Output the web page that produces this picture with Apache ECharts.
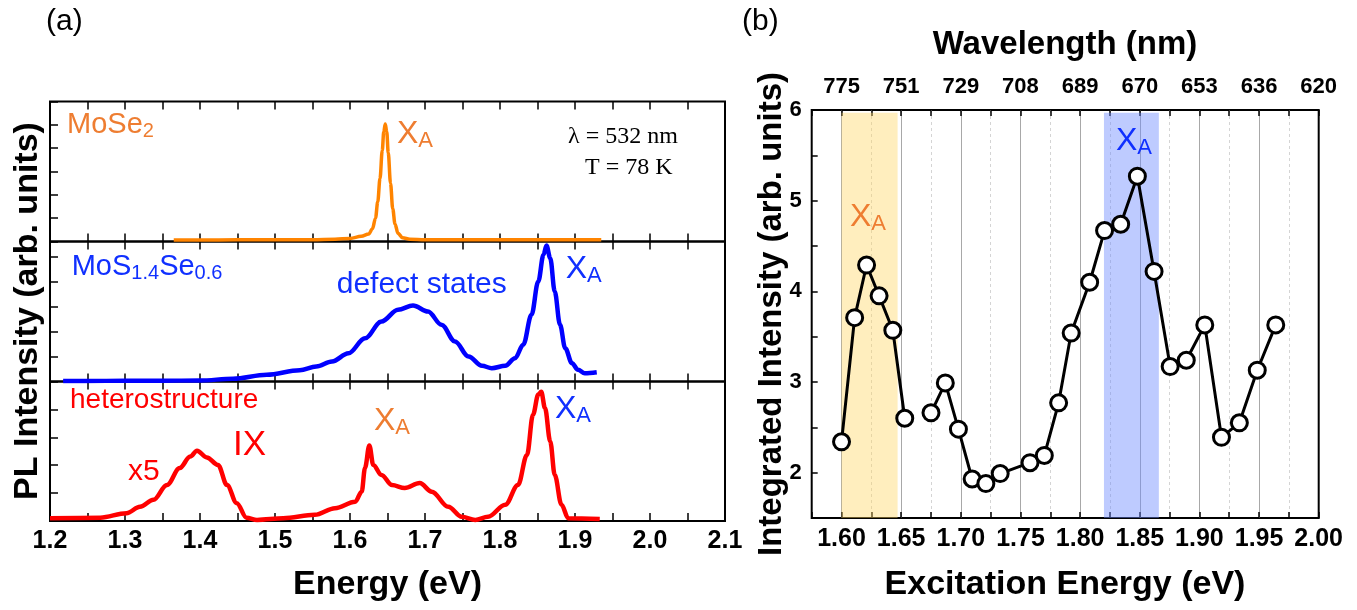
<!DOCTYPE html>
<html><head><meta charset="utf-8">
<script src="https://cdn.jsdelivr.net/npm/echarts@6/dist/echarts.min.js"></script>
<style>html,body{margin:0;padding:0;background:#fff}#c{width:1357px;height:610px}</style>
</head><body><div id="c"></div>
<script>
// ---------- DATA ----------
// Panel (a): PL spectra (arb. units, per-panel scale)
const mose2Energy = [1.365,1.40,1.45,1.50,1.55,1.58,1.60,1.615,1.625,1.630,1.634,1.637,1.640,1.643,1.645,1.647,1.649,1.651,1.654,1.657,1.660,1.664,1.670,1.680,1.700,1.750,1.800,1.850,1.900,1.935];
const mose2PL     = [0.06,0.06,0.07,0.07,0.08,0.10,0.13,0.22,0.32,0.55,1.0,1.7,2.7,3.9,4.7,5.04,4.7,3.8,2.5,1.4,0.75,0.35,0.16,0.10,0.08,0.07,0.07,0.08,0.07,0.07];

const mossEnergy = [1.2175,1.25,1.30,1.35,1.40,1.444,1.489,1.533,1.555,1.576,1.598,1.620,1.642,1.664,1.684,1.704,1.722,1.740,1.758,1.776,1.789,1.807,1.820,1.831,1.842,1.851,1.858,1.862,1.867,1.873,1.880,1.887,1.896,1.904,1.913,1.929];
const mossPL     = [0.02,0.02,0.03,0.03,0.04,0.11,0.27,0.45,0.60,0.80,1.13,1.73,2.40,2.87,3.04,2.80,2.27,1.60,1.00,0.63,0.53,0.63,0.93,1.47,2.67,4.00,5.07,5.44,4.93,3.60,2.27,1.33,0.73,0.47,0.33,0.37];

const heteroEnergy = [1.200,1.267,1.302,1.320,1.338,1.356,1.373,1.387,1.396,1.409,1.424,1.436,1.449,1.462,1.476,1.511,1.553,1.580,1.607,1.6156,1.620,1.6258,1.631,1.642,1.656,1.673,1.693,1.709,1.731,1.749,1.767,1.784,1.807,1.824,1.836,1.844,1.851,1.855,1.860,1.867,1.873,1.882,1.891,1.933];
const heteroPL     = [0.10,0.12,0.28,0.51,0.76,1.29,1.90,2.31,2.52,2.28,2.01,1.29,0.64,0.12,0.04,0.10,0.22,0.46,0.69,1.05,1.90,2.71,2.01,1.65,1.29,1.18,1.36,1.05,0.51,0.15,0.04,0.15,0.58,1.29,2.37,3.81,4.53,4.63,4.05,2.85,1.65,0.58,0.10,0.07];

// Panel (b): integrated intensity vs excitation energy
const excitationEnergy   = [1.600,1.611,1.621,1.6315,1.643,1.653,1.675,1.687,1.698,1.7095,1.721,1.733,1.758,1.770,1.782,1.7925,1.808,1.8205,1.834,1.848,1.862,1.8755,1.889,1.9045,1.9185,1.9335,1.9485,1.964];
const integratedIntensity = [2.34,3.71,4.29,3.95,3.57,2.60,2.66,2.99,2.48,1.93,1.88,1.99,2.11,2.19,2.77,3.54,4.10,4.67,4.74,5.27,4.22,3.17,3.24,3.63,2.39,2.55,3.13,3.63];
const lineBreakAfter = 5; // no connecting segment between 6th and 7th point

const wavelengthLabels = ['775','751','729','708','689','670','653','636','620'];
const bandMoSe2XA = [1.600, 1.647];
const bandMoSSeXA = [1.820, 1.866];

// ---------- CHART ----------
const SANS = '"Liberation Sans", Arial, sans-serif';
const SERIF = '"Liberation Serif", "DejaVu Serif", serif';
const ORANGE_T = '#EE7D31', BLUE_T = '#1030FF', RED = '#FF0000';
const chart = echarts.init(document.getElementById('c'));
const zip = (a, b) => a.map((x, i) => [x, b[i]]);

const fmtA = v => { const t = Math.round(v * 100); return t % 10 === 0 ? (t / 100).toFixed(1) : ''; };
const fmtB = v => v < 1.58 ? '' : v.toFixed(2);
const fmtW = v => { const i = Math.round((v - 1.60) / 0.05); return (v > 1.58 && i >= 0 && i < wavelengthLabels.length) ? wavelengthLabels[i] : ''; };

const gridBox = {show: true, borderColor: '#000', borderWidth: 2, backgroundColor: 'transparent', outerBoundsMode: 'none', containLabel: false};
const grids = [
  Object.assign({left: 50, top: 101.5, width: 675, height: 140}, gridBox),
  Object.assign({left: 50, top: 241.5, width: 675, height: 140}, gridBox),
  Object.assign({left: 50, top: 381.5, width: 675, height: 139.5}, gridBox),
  Object.assign({left: 811.7, top: 110, width: 507, height: 408}, gridBox),
  {left: 781.9, top: 110, width: 536.8, height: 408, show: false, outerBoundsMode: 'none', containLabel: false}
];

const tickA = {show: true, inside: true, length: 8, lineStyle: {color: '#000', width: 1.5}};
function axA(grid, pos, labels) {
  return {gridIndex: grid, type: 'value', position: pos, min: 1.2, max: 2.1, interval: 0.05,
    axisLine: {show: false}, axisTick: tickA, splitLine: {show: false},
    axisLabel: {show: labels, formatter: fmtA, fontFamily: SANS, fontWeight: 'bold', fontSize: 25, color: '#000', margin: 8}};
}
const xAxes = [
  axA(0, 'bottom', false), axA(0, 'top', false),
  axA(1, 'bottom', false), axA(1, 'top', false),
  axA(2, 'bottom', true), axA(2, 'top', false),
  {gridIndex: 3, type: 'value', position: 'bottom', min: 1.575, max: 2.0, interval: 0.025,
    axisLine: {show: false}, axisTick: {show: true, inside: true, length: 6, lineStyle: {color: '#000', width: 1.5}},
    axisLabel: {show: false},
    splitLine: {show: true, showMinLine: false, showMaxLine: false, lineStyle: {color: '#d4d4d4', width: 1, type: [3, 3]}}},
  {gridIndex: 3, type: 'value', position: 'top', min: 1.575, max: 2.0, interval: 0.025,
    axisLine: {show: false}, axisTick: {show: true, inside: true, length: 6, lineStyle: {color: '#000', width: 1.5}},
    axisLabel: {show: false}, splitLine: {show: false}},
  {gridIndex: 4, type: 'value', position: 'bottom', min: 1.55, max: 2.0, interval: 0.05,
    axisLine: {show: false}, axisTick: {show: false},
    axisLabel: {formatter: fmtB, fontFamily: SANS, fontWeight: 'bold', fontSize: 25, color: '#000', margin: 9},
    splitLine: {show: true, showMinLine: false, showMaxLine: false, lineStyle: {color: '#a8a8a8', width: 1}}},
  {gridIndex: 4, type: 'value', position: 'top', min: 1.55, max: 2.0, interval: 0.05,
    axisLine: {show: false}, axisTick: {show: false},
    axisLabel: {formatter: fmtW, fontFamily: SANS, fontWeight: 'bold', fontSize: 22, color: '#000', margin: 12},
    splitLine: {show: false}}
];
function ayA(grid, max) {
  return {gridIndex: grid, type: 'value', min: 0, max: max, interval: 1, position: 'left',
    axisLine: {show: false}, axisTick: tickA, axisLabel: {show: false}, splitLine: {show: false}};
}
const yAxes = [
  ayA(0, 6), ayA(1, 5.6), ayA(2, 5),
  {gridIndex: 3, type: 'value', min: 1.5, max: 6, interval: 0.5, position: 'left',
    axisLine: {show: false}, axisTick: {show: true, inside: true, length: 6, lineStyle: {color: '#000', width: 1.5}},
    axisLabel: {formatter: v => Number.isInteger(v) ? String(v) : '', fontFamily: SANS, fontWeight: 'bold', fontSize: 22, color: '#000', margin: 10},
    splitLine: {show: false}},
  {gridIndex: 4, type: 'value', min: 1.5, max: 6, show: false}
];

const bData = [];
excitationEnergy.forEach((e, i) => { bData.push([e, integratedIntensity[i]]); if (i === lineBreakAfter) bData.push('-'); });

function lineSeries(x, y, data, color, w) {
  return {type: 'line', xAxisIndex: x, yAxisIndex: y, data: data, showSymbol: false, symbol: 'none',
    smooth: 0.35, smoothMonotone: 'x', lineStyle: {color: color, width: w}, silent: true, z: 3};
}

function sub(main, s, size, subSize, color, x, y, subLH) {
  return {type: 'text', x: x, y: y, z: 50, silent: true,
    style: {text: '{m|' + main + '}{s|' + s + '}', align: 'left', textAlign: 'left', verticalAlign: 'middle', textVerticalAlign: 'middle', fill: color,
      rich: {m: {fontFamily: SANS, fontSize: size, lineHeight: size + 4, fill: color},
             s: {fontFamily: SANS, fontSize: subSize, lineHeight: subLH, verticalAlign: 'bottom', fill: color}}}};
}
function txt(x, y, text, size, color, opts) {
  opts = opts || {};
  return {type: 'text', x: x, y: y, z: 50, silent: true, rotation: opts.rot || 0,
    style: {text: text, fontFamily: opts.family || SANS, fontSize: size, fontWeight: opts.weight || 'normal', fill: color,
      align: opts.align || 'left', textAlign: opts.align || 'left', verticalAlign: 'middle', textVerticalAlign: 'middle'}};
}

const graphics = [
  txt(46, 22, '(a)', 30, '#000'),
  txt(742, 22, '(b)', 30, '#000'),
  txt(28, 311, 'PL Intensity (arb. units)', 34, '#000', {weight: 'bold', align: 'center', rot: Math.PI / 2}),
  txt(387.5, 585, 'Energy (eV)', 34, '#000', {weight: 'bold', align: 'center'}),
  txt(772, 314, 'Integrated Intensity (arb. units)', 33, '#000', {weight: 'bold', align: 'center', rot: Math.PI / 2}),
  txt(1065, 585, 'Excitation Energy (eV)', 34, '#000', {weight: 'bold', align: 'center'}),
  txt(1065, 45, 'Wavelength (nm)', 33, '#000', {weight: 'bold', align: 'center'}),
  sub('MoSe', '2', 29, 20, ORANGE_T, 67, 125, 14),
  sub('X', 'A', 32, 22, ORANGE_T, 397, 134, 12),
  {type: 'text', x: 71.7, y: 266.5, z: 50, silent: true,
    style: {text: '{m|MoS}{s|1.4}{m|Se}{s|0.6}', align: 'left', textAlign: 'left', verticalAlign: 'middle', textVerticalAlign: 'middle', fill: BLUE_T,
      rich: {m: {fontFamily: SANS, fontSize: 29, lineHeight: 33, fill: BLUE_T},
             s: {fontFamily: SANS, fontSize: 20, lineHeight: 14, verticalAlign: 'bottom', fill: BLUE_T}}}},
  txt(336.7, 284.5, 'defect states', 30, BLUE_T),
  sub('X', 'A', 32, 22, BLUE_T, 565.7, 269, 12),
  txt(70, 400, 'heterostructure', 28, RED),
  txt(128, 471.5, 'x5', 30, RED),
  txt(233, 445, 'IX', 35, RED),
  sub('X', 'A', 32, 22, ORANGE_T, 374, 421, 12),
  sub('X', 'A', 32, 22, BLUE_T, 555, 409, 12),
  sub('X', 'A', 32, 22, ORANGE_T, 850, 217, 12),
  sub('X', 'A', 32, 22, BLUE_T, 1116, 141, 12),
  txt(568, 137, 'λ = 532 nm', 24, '#000', {family: SERIF}),
  txt(585, 168, 'T = 78 K', 24, '#000', {family: SERIF})
];

chart.setOption({
  animation: false,
  backgroundColor: '#fff',
  grid: grids,
  xAxis: xAxes,
  yAxis: yAxes,
  series: [
    lineSeries(0, 0, zip(mose2Energy, mose2PL), '#FF8400', 3.5),
    lineSeries(2, 1, zip(mossEnergy, mossPL), '#0000FF', 4.5),
    lineSeries(4, 2, zip(heteroEnergy, heteroPL), '#FF0000', 4.5),
    {type: 'line', xAxisIndex: 6, yAxisIndex: 3, data: bData, connectNulls: false,
      symbol: 'circle', symbolSize: 16, showSymbol: true, z: 5,
      lineStyle: {color: '#000', width: 3},
      itemStyle: {color: '#fff', borderColor: '#000', borderWidth: 3},
      silent: true,
      markArea: {silent: true, z: 1,
        data: [
          [{xAxis: bandMoSe2XA[0], yAxis: 1.5, itemStyle: {color: 'rgba(255,214,100,0.42)'}}, {xAxis: bandMoSe2XA[1], yAxis: 5.97}],
          [{xAxis: bandMoSSeXA[0], yAxis: 1.5, itemStyle: {color: 'rgba(110,140,255,0.45)'}}, {xAxis: bandMoSSeXA[1], yAxis: 5.97}]
        ]}}
  ],
  graphic: {elements: graphics}
});
</script>
</body></html>
